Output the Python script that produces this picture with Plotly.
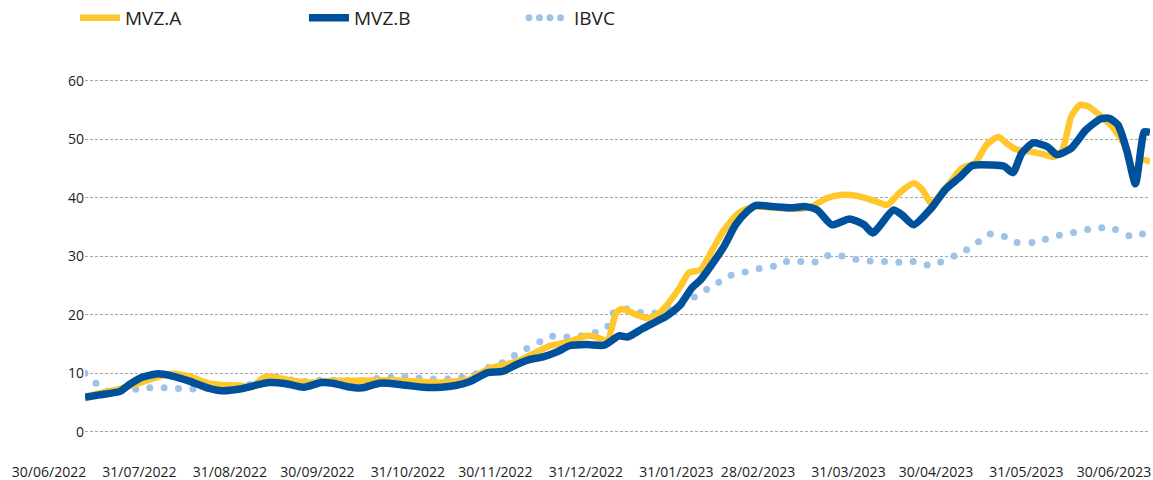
import pandas as pd
import plotly.graph_objects as go

START = pd.Timestamp("2022-06-30")

# MVZ.A (yellow) - day offsets from 30/06/2022 and values
a_days = [0, 5, 12, 19, 25, 30, 36, 42, 47, 53, 57, 61, 64, 70, 77, 84, 94, 105, 122, 132,
          138, 148, 159, 166, 172, 175, 179, 182, 184, 189, 193, 196, 199, 204, 207, 211,
          215, 219, 224, 229, 236, 245, 249, 254, 259, 265, 271, 275, 279, 284, 287, 290,
          295, 300, 302, 305, 309, 313, 316, 319, 324, 328, 332, 335, 338, 341, 344, 349,
          352, 356, 359, 360, 362, 365]
a_vals = [6.0, 6.6, 7.3, 8.4, 9.4, 9.9, 9.4, 8.3, 8.0, 7.9, 7.6, 9.2, 9.4, 8.8, 8.4, 8.7,
          8.7, 8.8, 8.4, 9.0, 10.7, 12.0, 14.6, 15.4, 16.4, 16.2, 15.6, 20.3, 21.0, 20.0,
          19.4, 20.0, 21.4, 24.8, 27.2, 27.7, 31.1, 34.5, 37.4, 38.5, 38.3, 38.1, 38.5,
          39.9, 40.5, 40.3, 39.4, 38.8, 40.8, 42.5, 41.4, 39.1, 41.7, 44.8, 45.4, 45.9,
          49.1, 50.4, 49.3, 48.3, 47.9, 47.5, 47.0, 48.2, 53.9, 55.9, 55.6, 53.6, 52.2,
          49.3, 44.8, 44.3, 46.5, 46.2]

# MVZ.B (dark blue)
b_days = [0, 5, 12, 15, 19, 25, 30, 36, 42, 47, 53, 59, 63, 69, 75, 81, 85, 90, 95, 101,
          109, 116, 122, 127, 132, 138, 143, 148, 152, 157, 162, 166, 172, 178, 183, 186,
          191, 196, 199, 204, 208, 211, 214, 219, 223, 227, 230, 236, 242, 247, 251, 256,
          262, 267, 270, 277, 280, 284, 290, 295, 300, 304, 311, 315, 318, 321, 325, 330,
          333, 338, 343, 348, 351, 354, 357, 360, 362, 363, 365]
b_vals = [5.9, 6.3, 6.9, 8.0, 9.2, 9.9, 9.5, 8.6, 7.5, 7.0, 7.3, 8.0, 8.4, 8.2, 7.6, 8.4,
          8.3, 7.7, 7.5, 8.3, 8.0, 7.6, 7.6, 7.9, 8.6, 10.1, 10.3, 11.5, 12.3, 12.8, 13.7,
          14.7, 14.9, 14.8, 16.4, 16.2, 17.6, 18.9, 19.7, 21.7, 24.6, 26.0, 28.0, 31.7,
          35.4, 37.7, 38.7, 38.5, 38.3, 38.5, 37.9, 35.4, 36.4, 35.4, 34.0, 37.9, 37.1,
          35.4, 38.2, 41.5, 43.6, 45.5, 45.6, 45.4, 44.3, 47.6, 49.4, 48.7, 47.4, 48.5,
          51.6, 53.5, 53.6, 52.5, 48.2, 42.4, 48.8, 51.3, 51.2]

# IBVC (light blue dotted)
c_days = [0, 4, 8, 16, 22, 27, 32, 37, 43, 50, 56, 61, 65, 70, 75, 80, 85, 90, 95, 100,
          105, 109, 114, 119, 124, 129, 134, 138, 143, 147, 151, 156, 160, 165, 170, 175,
          179, 181, 185, 190, 195, 199, 204, 208, 213, 217, 221, 226, 231, 236, 240, 245,
          250, 254, 259, 264, 269, 274, 279, 284, 289, 293, 298, 302, 306, 310, 315, 319,
          325, 329, 334, 339, 344, 349, 353, 358, 362, 365]
c_vals = [10.0, 8.2, 6.9, 7.2, 7.5, 7.5, 7.4, 7.3, 7.4, 7.6, 8.0, 8.9, 9.4, 8.9, 8.6, 8.8,
          8.8, 8.7, 8.7, 9.1, 9.3, 9.4, 9.2, 9.0, 9.0, 9.3, 9.9, 10.9, 11.8, 13.0, 14.1,
          15.4, 16.3, 16.2, 16.4, 17.0, 17.9, 20.3, 21.0, 20.4, 20.3, 20.9, 21.7, 22.8,
          24.3, 25.5, 26.7, 27.3, 27.9, 28.3, 29.1, 29.1, 29.0, 30.1, 30.1, 29.5, 29.2,
          29.1, 29.0, 29.1, 28.5, 29.0, 30.1, 31.1, 32.4, 33.8, 33.4, 32.4, 32.4, 32.9,
          33.6, 34.1, 34.6, 34.9, 34.6, 33.5, 33.8, 33.8]

tick_dates = ["2022-06-30", "2022-07-31", "2022-08-31", "2022-09-30", "2022-10-31",
              "2022-11-30", "2022-12-31", "2023-01-31", "2023-02-28", "2023-03-31",
              "2023-04-30", "2023-05-31", "2023-06-30"]
tick_text = ["30/06/2022", "31/07/2022", "31/08/2022", "30/09/2022", "31/10/2022",
             "30/11/2022", "31/12/2022", "31/01/2023", "28/02/2023", "31/03/2023",
             "30/04/2023", "31/05/2023", "30/06/2023"]
y_ticks = [0, 10, 20, 30, 40, 50, 60]


def to_dates(days):
    return START + pd.to_timedelta(days, unit="D")


fig = go.Figure()
fig.add_trace(go.Scatter(x=to_dates(c_days), y=c_vals, name="IBVC", mode="lines",
                         line=dict(color="#9DC3E8", width=7, shape="spline", smoothing=0.6),
                         legend="legend3"))
fig.add_trace(go.Scatter(x=to_dates(a_days), y=a_vals, name="MVZ.A", mode="lines",
                         line=dict(color="#FFC72C", width=6.5, shape="spline", smoothing=0.6),
                         legend="legend"))
fig.add_trace(go.Scatter(x=to_dates(b_days), y=b_vals, name="MVZ.B", mode="lines",
                         line=dict(color="#00519C", width=7.5, shape="spline", smoothing=0.6),
                         legend="legend2"))

leg_common = dict(orientation="h", xanchor="left", y=1.158, yanchor="middle",
                  itemwidth=40, font=dict(size=19, color="#222222"),
                  bgcolor="rgba(0,0,0,0)")

fig.update_layout(
    width=1153, height=480,
    margin=dict(l=85, r=3, t=78, b=22, autoexpand=False),
    paper_bgcolor="white", plot_bgcolor="white",
    font=dict(family="Open Sans, sans-serif", size=14, color="#222222"),
    showlegend=True,
    legend=dict(x=-0.0094, **leg_common),
    legend2=dict(x=0.2056, **leg_common),
    legend3=dict(x=0.4122, **leg_common),
    xaxis=dict(type="date", range=["2022-06-30", "2023-06-30"],
               tickvals=tick_dates, ticktext=tick_text, tickangle=0, automargin=False,
               showgrid=False, zeroline=False, showline=False, ticks="",
               ticklabelshift=-36, ticklabelstandoff=4,
               tickfont=dict(size=14, color="#222222")),
    yaxis=dict(range=[-4.5, 60.5], tickvals=y_ticks, showgrid=True, automargin=False,
               gridcolor="#A6A6A6", gridwidth=1, griddash="3px,2px",
               zeroline=False, showline=False, ticks="",
               tickfont=dict(size=14, color="#222222")),
)

post = """
document.body.style.margin = '0';
document.body.style.padding = '0';
var st = document.createElement('style');
st.textContent =
  '.scatterlayer .trace:first-child path.js-line{stroke-linecap:round !important;stroke-dasharray:0 14.3 !important;}' +
  'g.legend3 path{stroke-linecap:round !important;stroke-dasharray:0 10.5 !important;}';
document.head.appendChild(st);
"""

fig.write_html("out.html", post_script=post, config={"displayModeBar": False})
